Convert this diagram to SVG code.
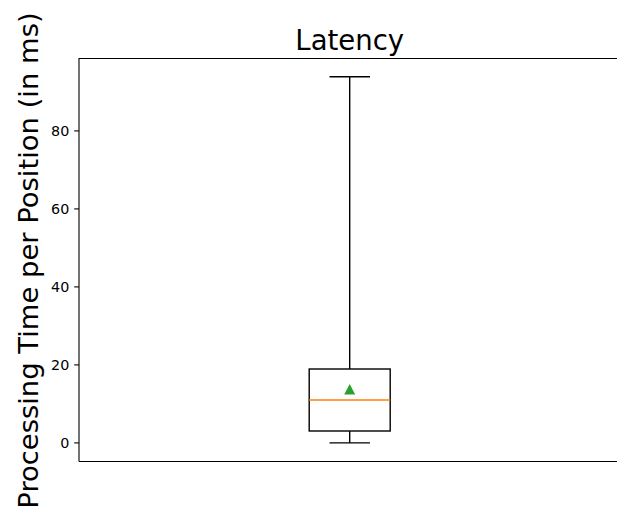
<svg xmlns="http://www.w3.org/2000/svg" width="617" height="510" viewBox="0 0 617 510">
<style>
text{font-family:"DejaVu Sans",sans-serif;fill:#000}
.tick{font-size:14.3px;text-anchor:end}
.spine{stroke:#000;stroke-width:1.1;fill:none}
.bx{stroke:#000;stroke-width:1.4;fill:none}
</style>
<rect width="617" height="510" fill="#fff"/>
<g id="axes">
<path class="spine" d="M79,461.5V58.5H621M79,461.5H621"/>
<g stroke="#000" stroke-width="1.1">
<line x1="74.2" y1="442.9" x2="79" y2="442.9"/>
<line x1="74.2" y1="364.9" x2="79" y2="364.9"/>
<line x1="74.2" y1="286.9" x2="79" y2="286.9"/>
<line x1="74.2" y1="208.9" x2="79" y2="208.9"/>
<line x1="74.2" y1="130.9" x2="79" y2="130.9"/>
</g>
<text class="tick" x="69.3" y="448.1">0</text>
<text class="tick" x="69.3" y="370.1">20</text>
<text class="tick" x="69.3" y="292.1">40</text>
<text class="tick" x="69.3" y="214.1">60</text>
<text class="tick" x="69.3" y="136.1">80</text>
</g>
<g id="title"><text x="349.7" y="50" font-size="27.5" text-anchor="middle">Latency</text></g>
<g id="ylabel"><text transform="translate(38,260.5) rotate(-90)" font-size="27.4" text-anchor="middle">Processing Time per Position (in ms)</text></g>
<g id="boxplot">
<rect class="bx" x="309.2" y="369" width="81" height="62"/>
<line class="bx" x1="349.7" y1="369" x2="349.7" y2="76.7"/>
<line class="bx" x1="349.7" y1="431" x2="349.7" y2="442.9"/>
<line class="bx" x1="329.5" y1="76.7" x2="370" y2="76.7"/>
<line class="bx" x1="329.5" y1="442.9" x2="370" y2="442.9"/>
<line x1="309.2" y1="400" x2="390.2" y2="400" stroke="#ff7f0e" stroke-width="1.4"/>
<path d="M349.7,384 L355.2,394.5 L344.2,394.5 Z" fill="#2ca02c"/>
</g>
</svg>
